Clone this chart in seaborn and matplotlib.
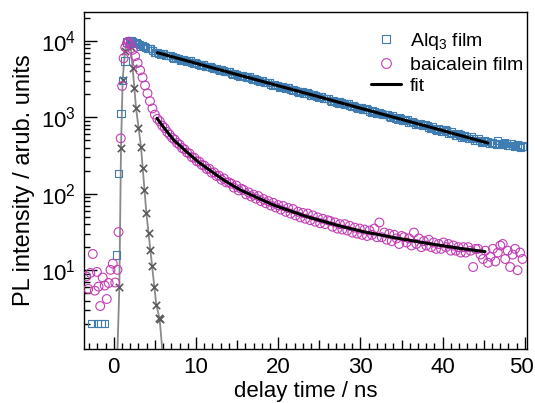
import numpy as np
import pandas as pd
import matplotlib
matplotlib.use("Agg")
import matplotlib.pyplot as plt
import matplotlib.transforms as mtransforms
from matplotlib.lines import Line2D
from matplotlib.ticker import (FixedLocator, MultipleLocator, LogLocator,
                               NullFormatter, FuncFormatter, LogFormatterSciNotation)
import seaborn as sns

# ---- values ----
# Alq3 film: rising edge, then the decay (two interleaved reads, 0.4 ns apart each)
alq_rise_t = [-2.7, -2.0, -1.55, -1.15, 0.35, 0.6, 0.88, 1.08, 1.37, 1.6]
alq_rise_y = [2, 2, 2, 2, 15.8, 185, 1125, 3000, 5430, 9600]
alq_t0, alq_dt = 1.9, 0.4
alq_y = [
    10100, 9700, 9400, 8850, 8550, 8050, 7800, 7350,
    7100, 6800, 6720, 6450, 6380, 6120, 6050, 5780, 5720, 5480,
    5430, 5200, 5150, 4900, 4870, 4660, 4620, 4400, 4380, 4170,
    4150, 3950, 3930, 3740, 3720, 3540, 3530, 3360, 3350, 3180,
    3170, 3010, 3000, 2860, 2850, 2700, 2700, 2560, 2550, 2420,
    2430, 2300, 2300, 2180, 2180, 2060, 2070, 1950, 1960, 1850,
    1860, 1750, 1770, 1660, 1670, 1570, 1580, 1490, 1500, 1410,
    1420, 1340, 1350, 1260, 1280, 1190, 1210, 1130, 1150, 1070,
    1090, 1010, 1040, 960, 985, 905, 930, 860, 885, 815,
    835, 770, 795, 725, 750, 690, 715, 655, 680, 615,
    640, 585, 610, 550, 580, 525, 550, 500, 525, 470,
    500, 480, 470, 455, 490, 445, 470, 430, 455, 415,
    440, 405, 420]
alq_mid_t0 = 2.1
alq_mid_y = [
    10170, 9310, 9130, 8440, 8470, 7840, 7800, 7040,
    6950, 6570, 6720, 6350, 6430, 5920, 5910, 5580, 5710, 5400,
    5460, 5030, 5030, 4740, 4860, 4580, 4650, 4280, 4270, 4040,
    4120, 3900, 3940, 3640, 3630, 3430, 3510, 3320, 3360, 3090,
    3090, 2920, 2990, 2820, 2850, 2630, 2620, 2470, 2540, 2400,
    2430, 2240, 2240, 2115, 2160, 2040, 2065, 1905, 1905, 1800,
    1840, 1740, 1755, 1620, 1620, 1530, 1560, 1475, 1495, 1375,
    1378, 1300, 1330, 1255, 1270, 1170, 1170, 1105, 1130, 1070,
    1080, 995, 995, 940, 960, 908, 920, 846, 845, 798,
    817, 772, 780, 720, 718, 679, 695, 656, 664, 612,
    611, 577, 590, 557, 565, 521, 520, 491, 502, 475,
    481, 453, 460, 441, 459, 440, 453, 424, 430, 412,
    428, 411]
alq_fit_t = [5.3, 10, 15, 20, 25, 30, 35, 40, 45.5]
alq_fit_y = [6970, 5060, 3610, 2575, 1840, 1310, 935, 668, 459]

# baicalein film: pre-pulse noise, rise and early decay, then decay every 0.3 ns from 5.3 ns
bai_rise_t = [-3.35, -3.1, -2.85, -2.55, -2.3, -2.05, -1.85, -1.65, -1.35, -1.1, -0.85,
              -0.62, -0.4, -0.12, 0.18, 0.45, 0.58, 0.85, 1.02, 1.2, 1.4, 1.6, 1.82, 2.05,
              2.3, 2.6, 2.9, 3.2, 3.5, 3.8, 4.1, 4.4, 4.7, 5.0]
bai_rise_y = [8.3, 5.7, 9.2, 16.3, 5.4, 9.5, 6.1, 3.4, 8.0, 6.3, 4.2,
              6.8, 10.1, 12.2, 6.9, 10.1, 31.5, 530, 2560, 5890, 8200, 9250, 9700, 8900,
              7600, 6300, 5100, 4100, 3300, 2600, 2050, 1620, 1300, 1080]
bai_t0, bai_dt = 5.3, 0.3
bai_y = [
    950, 880, 775, 720, 640, 590, 535, 510, 460, 438,
    395, 380, 345, 335, 300, 295, 265, 262, 238, 233,
    210, 212, 188, 190, 170, 172, 152, 158, 140, 141,
    135, 120, 128, 110, 116, 112, 98, 104, 92, 97,
    86, 93, 80, 85, 75, 80, 70, 76, 66, 71,
    62, 69, 58, 65, 55, 63, 52, 58, 49, 56,
    47, 55, 45, 52, 43, 49, 41, 47, 40, 45,
    44, 37, 42, 35, 40, 34, 40, 33, 38, 31,
    36, 30, 35, 29, 34, 28, 33, 29, 35, 27,
    42, 27, 31, 25, 30, 24, 29, 26, 22, 28,
    27, 23, 26, 21, 31, 22, 26, 20, 24, 21,
    25, 20, 23, 19, 22, 19, 23, 20, 22, 18,
    21, 18, 20, 17, 20, 17, 20, 18, 11, 19,
    19, 16, 14, 18, 12.5, 15, 19, 13, 17, 21,
    22, 14, 18, 11, 16, 19, 10, 17, 14]
bai_fit_t = [5.26, 6.0, 7.28, 8.3, 9.3, 10.3, 11.34, 13.35, 15.38, 19.43,
             23.5, 27.5, 30.4, 34.4, 38.5, 42.5, 45.15]
bai_fit_y = [968, 752, 504, 400, 321, 259, 215, 151, 112, 71,
             50, 37.8, 31.8, 26.3, 22.1, 19.0, 17.5]

# instrument response (grey crosses) and the grey line through them
irf_t = [0.68, 0.88, 1.08, 1.37, 1.7, 2.05, 2.30, 2.50, 2.71, 2.99, 3.31, 3.51,
         3.72, 3.96, 4.24, 4.45, 4.69, 4.93, 5.18, 5.5, 5.6]
irf_y = [6.1, 392, 3070, 7400, 9800, 8300, 4360, 2390, 1310, 716, 411, 215,
         112, 56.5, 30.4, 18.4, 11.4, 6.1, 3.5, 2.4, 2.3]
irf_line_t = [0.45, 0.68, 0.88, 1.08, 1.37, 1.7, 2.05, 2.30, 2.71, 3.31, 3.96,
              4.45, 4.93, 5.18, 5.58, 5.9]
irf_line_y = [0.9, 6.1, 392, 3070, 7400, 9800, 8300, 4360, 1310, 411, 56.5,
              18.4, 6.1, 3.5, 2.3, 0.9]

# ---- assemble ----
def grid(t0, dt, n):
    return list(np.round(t0 + dt * np.arange(n), 2))

alq = pd.DataFrame({
    "t": alq_rise_t + grid(alq_t0, alq_dt, len(alq_y)) + grid(alq_mid_t0, alq_dt, len(alq_mid_y)),
    "y": alq_rise_y + alq_y + alq_mid_y})
bai = pd.DataFrame({
    "t": bai_rise_t + grid(bai_t0, bai_dt, len(bai_y)),
    "y": bai_rise_y + bai_y})

sq_color = "#3f7db3"
ci_color = "#c33db6"

sns.set_theme(style="ticks")
plt.rcParams["font.family"] = ["Liberation Sans", "DejaVu Sans"]
plt.rcParams["mathtext.fontset"] = "custom"
plt.rcParams["mathtext.rm"] = "Liberation Sans"
plt.rcParams["mathtext.it"] = "Liberation Sans:italic"
plt.rcParams["text.color"] = "black"
plt.rcParams["axes.labelcolor"] = "black"

fig = plt.figure(figsize=(5.35, 4.03), dpi=100)
ax = fig.add_axes([84 / 535, 54 / 403, 443 / 535, 337 / 403])
ax.set_yscale("log")

# grey instrument response
sns.lineplot(x=irf_line_t, y=irf_line_y, color="#8a8a8a", linewidth=1.3,
             sort=False, estimator=None, ax=ax, zorder=1)
sns.scatterplot(x=irf_t, y=irf_y, marker="x", s=28, color="#5a5a5a",
                linewidth=1.2, ax=ax, zorder=2)

# measured decays
sns.scatterplot(data=alq, x="t", y="y", marker="s", s=26, facecolor="none",
                edgecolor=sq_color, linewidth=0.8, ax=ax, zorder=3)
sns.scatterplot(data=bai, x="t", y="y", marker="o", s=40, facecolor="none",
                edgecolor=ci_color, linewidth=0.8, ax=ax, zorder=3)

# fits
sns.lineplot(x=alq_fit_t, y=alq_fit_y, color="black", linewidth=2.2,
             sort=False, estimator=None, ax=ax, zorder=4)
sns.lineplot(x=bai_fit_t, y=bai_fit_y, color="black", linewidth=2.2,
             sort=False, estimator=None, ax=ax, zorder=4)

ax.set_xlim(-3.62, 50.25)
ax.set_ylim(0.933, 23700)

# axes ticks
ax.xaxis.set_major_locator(MultipleLocator(5))
ax.xaxis.set_minor_locator(MultipleLocator(1))
ax.xaxis.set_major_formatter(FuncFormatter(lambda v, p: f"{v:.0f}" if round(v) % 10 == 0 else ""))
ax.yaxis.set_major_locator(FixedLocator([10, 100, 1000, 10000]))
ax.yaxis.set_major_formatter(LogFormatterSciNotation())
ax.yaxis.set_minor_locator(LogLocator(base=10, subs=np.arange(2, 10)))
ax.yaxis.set_minor_formatter(NullFormatter())
ax.tick_params(which="both", direction="in", top=False, right=False,
               width=1, colors="black", labelsize=16)
ax.tick_params(which="major", length=9, pad=6)
ax.tick_params(which="minor", length=4.5)

for s in ax.spines.values():
    s.set_color("black")
    s.set_linewidth(1)

ax.set_xlabel("delay time / ns", fontsize=16, labelpad=2, color="black")
ax.set_ylabel("PL intensity / arub. units", fontsize=17, labelpad=4, color="black")

handles = [
    Line2D([], [], marker="s", ls="", mfc="none", mec=sq_color, ms=6, mew=0.8),
    Line2D([], [], marker="o", ls="", mfc="none", mec=ci_color, ms=7, mew=0.8),
    Line2D([], [], color="black", lw=2.2),
]
ax.legend(handles, ["Alq$_3$ film", "baicalein film", "fit"], loc="upper left",
          bbox_to_anchor=((371 - 84) / 443, (349 - 31) / 337), frameon=False,
          fontsize=14, borderpad=0, borderaxespad=0, labelspacing=0.2,
          handlelength=1.55, handletextpad=0.45, labelcolor="black")

# shorter ticks at the half decades, keep the "50" label inside the figure
fig.canvas.draw()
nudge = mtransforms.ScaledTranslation(-4 / 100, 0, fig.dpi_scale_trans)
for tick, loc in zip(ax.xaxis.get_major_ticks(), ax.get_xticks()):
    if round(loc) % 10 != 0:
        tick.tick1line.set_markersize(6.5)
    if round(loc) == 50:
        tick.label1.set_transform(tick.label1.get_transform() + nudge)

fig.savefig("out.png", dpi=100)
